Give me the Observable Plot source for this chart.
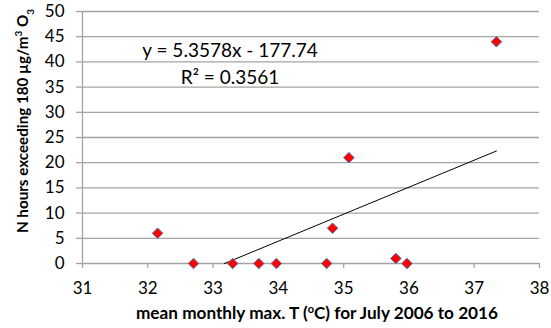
<!DOCTYPE html>
<html><head><meta charset="utf-8">
<script src="https://cdn.jsdelivr.net/npm/d3@7"></script>
<script src="https://cdn.jsdelivr.net/npm/@observablehq/plot@0.6"></script>
<style>body{margin:0;background:#fff}</style>
</head><body><div id="chart"></div>
<script>
// Data
const temperature = [32.15, 32.70, 33.30, 33.70, 33.97, 34.74, 34.83, 35.08, 35.80, 35.97, 37.34];
const hours       = [6,     0,     0,     0,     0,     0,     7,     21,    1,     0,     44];
// Trendline as printed on the chart
const slope = 5.3578;
const intercept = -177.74;
const r2 = 0.3561;
const xTicks = [31, 32, 33, 34, 35, 36, 37, 38];
const yTicks = [0, 5, 10, 15, 20, 25, 30, 35, 40, 45, 50];
const eqLabel = "y = 5.3578x - 177.74";
const r2Label = "R² = 0.3561";

const points = temperature.map((t, i) => ({t, h: hours[i]}));
const tStart = Math.max(d3.min(temperature), -intercept / slope);
const tEnd = d3.max(temperature);
const trend = [tStart, tEnd].map(t => ({t, h: slope * t + intercept}));

const gridColor = "#a3a3a3";
const chart = Plot.plot({
  width: 551, height: 328,
  marginLeft: 82, marginRight: 12, marginTop: 11, marginBottom: 65,
  style: {fontFamily: "Lato, sans-serif", fontSize: "17px", color: "#000", background: "#fff"},
  x: {domain: [31, 38]},
  y: {domain: [0, 50]},
  marks: [
    Plot.gridY(yTicks, {stroke: gridColor, strokeOpacity: 1, strokeWidth: 1.3}),
    Plot.ruleX([31], {stroke: gridColor, strokeWidth: 1.3}),
    Plot.axisY(yTicks, {tickSize: 6, tickPadding: 12, stroke: gridColor, strokeWidth: 1.3, fill: "#000", label: null, tickFormat: d => d}),
    Plot.axisX(xTicks, {tickSize: 5, tickPadding: 13, stroke: gridColor, strokeWidth: 1.3, fill: "#000", label: null, tickFormat: d => d}),
    Plot.line(trend, {x: "t", y: "h", stroke: "#000", strokeWidth: 1}),
    Plot.dot(points, {x: "t", y: "h", symbol: "diamond2", r: 4.8, fill: "#ff0000", stroke: "#4f81bd", strokeWidth: 1}),
    Plot.text([eqLabel], {x: 33.26, y: 42.1, text: d => d, fontSize: 19, fill: "#000", lineAnchor: "middle"}),
    Plot.text([r2Label], {x: 33.26, y: 36.9, text: d => d, fontSize: 19, fill: "#000", lineAnchor: "middle"})
  ]
});

const svg = d3.select(chart);
// x-axis title with superscript
const xt = svg.append("text")
  .attr("x", 317).attr("y", 319)
  .attr("text-anchor", "middle")
  .attr("font-family", "Lato, sans-serif").attr("font-weight", "bold").attr("font-size", 17.2)
  .attr("fill", "#000");
xt.append("tspan").text("mean monthly max. T (");
xt.append("tspan").attr("baseline-shift", "super").attr("font-size", 11).text("o");
xt.append("tspan").text("C) for July 2006 to 2016");

// y-axis title with superscript/subscript
const yt = svg.append("text")
  .attr("transform", "translate(28,121) rotate(-90)")
  .attr("text-anchor", "middle")
  .attr("font-family", "Lato, sans-serif").attr("font-weight", "bold").attr("font-size", 15.2)
  .attr("fill", "#000");
yt.append("tspan").text("N hours exceeding 180 µg/m");
yt.append("tspan").attr("baseline-shift", "super").attr("font-size", 10).text("3");
yt.append("tspan").text(" O");
yt.append("tspan").attr("baseline-shift", "sub").attr("font-size", 10).text("3");

document.getElementById("chart").append(chart);
</script>
</body></html>
